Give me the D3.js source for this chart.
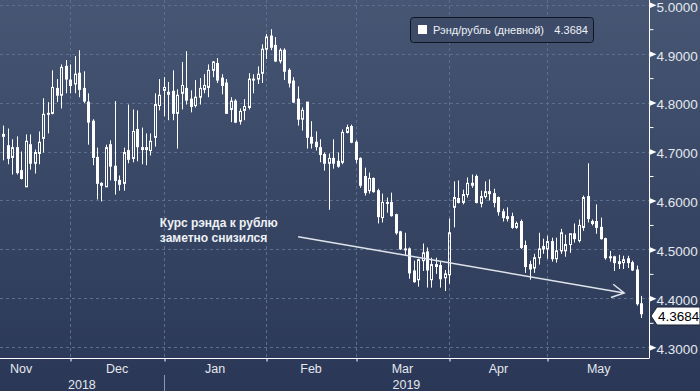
<!DOCTYPE html>
<html><head><meta charset="utf-8">
<script src="https://cdn.jsdelivr.net/npm/d3@7"></script>
<style>html,body{margin:0;padding:0;background:#36445f;} svg{display:block;}</style>
</head><body><svg id="c" width="700" height="391"></svg>
<script>
// ---------- data ----------
const startDate = "2018-11-12"; // first trading day shown (weekday series)
const open = [4.735,4.712,4.688,4.708,4.661,4.628,4.714,4.676,4.696,4.727,
4.778,4.778,4.829,4.815,4.874,4.846,4.838,4.860,4.829,4.801,
4.762,4.688,4.635,4.628,4.714,4.670,4.641,4.635,4.702,4.686,
4.745,4.708,4.708,4.702,4.729,4.794,4.825,4.817,4.823,4.778,
4.819,4.829,4.807,4.794,4.811,4.827,4.831,4.866,4.880,4.850,
4.840,4.786,4.803,4.762,4.784,4.790,4.848,4.848,4.860,4.909,
4.936,4.917,4.885,4.907,4.866,4.844,4.807,4.766,4.801,4.729,
4.719,4.708,4.694,4.676,4.686,4.680,4.678,4.739,4.751,4.719,
4.686,4.649,4.620,4.645,4.620,4.565,4.594,4.596,4.571,4.536,
4.501,4.501,4.456,4.438,4.477,4.495,4.438,4.469,4.467,4.442,
4.448,4.586,4.604,4.596,4.612,4.635,4.649,4.594,4.608,4.618,
4.614,4.606,4.577,4.567,4.567,4.545,4.557,4.508,4.469,4.462,
4.483,4.506,4.501,4.516,4.481,4.497,4.497,4.510,4.532,4.518,
4.545,4.608,4.557,4.557,4.545,4.522,4.485,4.485,4.471,4.473,
4.481,4.473,4.458,4.389];
const high = [4.753,4.747,4.725,4.731,4.700,4.735,4.735,4.704,4.741,4.809,
4.801,4.866,4.848,4.878,4.887,4.878,4.895,4.907,4.864,4.819,
4.766,4.708,4.637,4.714,4.723,4.803,4.651,4.708,4.796,4.786,
4.784,4.749,4.737,4.737,4.819,4.848,4.852,4.842,4.866,4.827,
4.883,4.905,4.825,4.846,4.850,4.858,4.878,4.885,4.891,4.858,
4.848,4.811,4.807,4.788,4.807,4.860,4.858,4.874,4.919,4.940,
4.950,4.934,4.911,4.911,4.870,4.852,4.833,4.790,4.801,4.762,
4.741,4.725,4.698,4.696,4.725,4.698,4.745,4.755,4.755,4.723,
4.688,4.667,4.657,4.647,4.624,4.614,4.606,4.616,4.573,4.538,
4.534,4.504,4.477,4.481,4.512,4.504,4.483,4.483,4.475,4.458,
4.563,4.639,4.641,4.622,4.647,4.653,4.653,4.620,4.639,4.643,
4.624,4.608,4.583,4.586,4.575,4.557,4.561,4.518,4.477,4.491,
4.534,4.522,4.528,4.524,4.524,4.542,4.530,4.532,4.553,4.561,
4.610,4.676,4.561,4.592,4.565,4.524,4.497,4.487,4.489,4.487,
4.487,4.477,4.467,4.405];
const low = [4.682,4.674,4.653,4.653,4.643,4.628,4.663,4.655,4.674,4.698,
4.737,4.776,4.801,4.788,4.819,4.819,4.819,4.811,4.799,4.714,
4.672,4.602,4.598,4.628,4.641,4.612,4.620,4.620,4.676,4.678,
4.680,4.674,4.672,4.692,4.710,4.784,4.772,4.764,4.764,4.706,
4.786,4.796,4.780,4.790,4.796,4.819,4.811,4.852,4.840,4.817,
4.778,4.760,4.758,4.755,4.764,4.786,4.819,4.838,4.840,4.889,
4.907,4.883,4.880,4.846,4.831,4.799,4.753,4.743,4.706,4.706,
4.702,4.678,4.661,4.581,4.665,4.667,4.674,4.737,4.717,4.676,
4.626,4.610,4.614,4.616,4.553,4.555,4.575,4.567,4.530,4.499,
4.489,4.440,4.432,4.424,4.456,4.422,4.422,4.450,4.422,4.415,
4.430,4.545,4.594,4.592,4.606,4.626,4.594,4.586,4.604,4.600,
4.586,4.569,4.557,4.557,4.542,4.542,4.501,4.452,4.438,4.452,
4.469,4.491,4.481,4.475,4.473,4.491,4.485,4.493,4.514,4.514,
4.538,4.555,4.549,4.532,4.520,4.479,4.475,4.456,4.460,4.460,
4.462,4.456,4.385,4.360];
const close = [4.731,4.686,4.708,4.657,4.645,4.721,4.676,4.698,4.719,4.776,
4.776,4.831,4.815,4.872,4.848,4.835,4.858,4.827,4.803,4.760,
4.688,4.635,4.631,4.708,4.670,4.641,4.633,4.698,4.684,4.741,
4.710,4.704,4.704,4.721,4.796,4.815,4.831,4.821,4.778,4.815,
4.835,4.805,4.792,4.811,4.829,4.835,4.866,4.883,4.846,4.835,
4.778,4.803,4.760,4.782,4.792,4.848,4.846,4.858,4.909,4.934,
4.913,4.885,4.907,4.864,4.840,4.801,4.766,4.784,4.729,4.717,
4.710,4.694,4.676,4.686,4.676,4.670,4.739,4.749,4.719,4.684,
4.631,4.616,4.645,4.618,4.567,4.596,4.596,4.569,4.534,4.501,
4.499,4.452,4.434,4.479,4.493,4.458,4.469,4.465,4.440,4.450,
4.534,4.606,4.596,4.612,4.635,4.631,4.596,4.608,4.618,4.614,
4.596,4.577,4.565,4.563,4.545,4.553,4.504,4.465,4.460,4.483,
4.501,4.501,4.516,4.481,4.497,4.534,4.510,4.532,4.522,4.549,
4.606,4.563,4.553,4.545,4.522,4.483,4.483,4.473,4.475,4.479,
4.473,4.458,4.389,4.3684];
const monthLabels = ["Nov","Dec","Jan","Feb","Mar","Apr","May"];
const yearLabels = ["2018","2019"];
const yTicks = [4.3,4.4,4.5,4.6,4.7,4.8,4.9,5.0];
const yMinorTicks = [4.35,4.45,4.55,4.65,4.75,4.85,4.95];
const seriesName = "Рэнд/рубль (дневной)";
const lastValue = 4.3684;
const noteLines = ["Курс рэнда к рублю","заметно снизился"];

// ---------- helpers ----------
const W = 700, H = 391, plotR = 649, plotB = 358;
const parse = d3.timeParse("%Y-%m-%d");
const start = parse(startDate);
const isWeekday = d => d.getDay() !== 0 && d.getDay() !== 6;
// weekday index of a date relative to start
function wIndex(d){
  if (d >= start) return d3.timeDay.range(start, d).filter(isWeekday).length;
  return -d3.timeDay.range(d, start).filter(isWeekday).length;
}
function firstWeekday(d){ while(!isWeekday(d)) d = d3.timeDay.offset(d,1); return d; }

const n = open.length;
const data = open.map((o,i)=>({i, o, h:high[i], l:low[i], c:close[i]}));

const x = d3.scaleLinear().domain([0, n-1]).range([3.3, 641.1]);
const y = d3.scaleLinear().domain([4.3, 5.0]).range([347.3, 4.7]);

const svg = d3.select("#c");
const defs = svg.append("defs");
const grad = defs.append("linearGradient").attr("id","bg").attr("x1",0).attr("y1",0).attr("x2",0).attr("y2",1);
grad.append("stop").attr("offset","0%").attr("stop-color","#465673");
grad.append("stop").attr("offset","100%").attr("stop-color","#2a3756");
svg.append("rect").attr("width",W).attr("height",H).attr("fill","url(#bg)");

// months
const monthStarts = d3.timeMonth.range(new Date(2018,10,1), new Date(2019,6,1)).map(firstWeekday);
const mIdx = monthStarts.map(wIndex);
const tickIdx = mIdx.filter(v => v >= 0 && x(v) < plotR);
const yearSplit = wIndex(firstWeekday(new Date(2019,0,1)));

// grid
const grid = svg.append("g").attr("stroke","#5b6f90").attr("stroke-dasharray","3,3").attr("stroke-width",1);
grid.selectAll("line.h").data(yTicks).join("line")
  .attr("x1",0).attr("x2",plotR).attr("y1",d=>Math.round(y(d))+0.5).attr("y2",d=>Math.round(y(d))+0.5);
grid.selectAll("line.v").data(tickIdx).join("line")
  .attr("y1",0).attr("y2",plotB).attr("x1",d=>Math.round(x(d))+0.5).attr("x2",d=>Math.round(x(d))+0.5);

// candles
const cg = svg.append("g");
const cand = cg.selectAll("g").data(data).join("g");
const px = d => Math.round(x(d.i));
cand.append("line").attr("stroke","#fff").attr("stroke-width",1)
  .attr("x1",d=>px(d)+0.5).attr("x2",d=>px(d)+0.5)
  .attr("y1",d=>y(d.h)).attr("y2",d=>y(Math.max(d.o,d.c)));
cand.append("line").attr("stroke","#fff").attr("stroke-width",1)
  .attr("x1",d=>px(d)+0.5).attr("x2",d=>px(d)+0.5)
  .attr("y1",d=>y(Math.min(d.o,d.c))).attr("y2",d=>y(d.l));
cand.filter(d=>d.c>d.o).append("rect")
  .attr("x",d=>px(d)-0.5).attr("width",2)
  .attr("y",d=>y(d.c)).attr("height",d=>Math.max(1,y(d.o)-y(d.c)))
  .attr("fill","none").attr("stroke","#fff").attr("stroke-width",1);
cand.filter(d=>d.c<=d.o).append("rect")
  .attr("x",d=>px(d)-1).attr("width",3)
  .attr("y",d=>y(d.o)-0.5).attr("height",d=>Math.max(1.5,y(d.c)-y(d.o)+1))
  .attr("fill","#fff");

// axes
const xAxis = svg.append("g").attr("transform",`translate(0,${plotB+0.5})`)
  .call(d3.axisBottom(x).tickValues(tickIdx).tickSize(3).tickFormat("").tickSizeOuter(0));
xAxis.select(".domain").attr("stroke","#fff").attr("d",`M0,0H${plotR}`);
xAxis.selectAll(".tick line").attr("stroke","#fff").attr("transform",d=>`translate(${Math.round(x(d))+0.5-x(d)},0)`);

const yAxis = svg.append("g").attr("transform",`translate(${plotR+0.5},0)`)
  .call(d3.axisRight(y).tickValues(yTicks).tickSize(0).tickPadding(7).tickFormat(d3.format(".4f")).tickSizeOuter(0));
yAxis.select(".domain").attr("stroke","#fff").attr("d",`M0,0V${plotB+0.5}`);
yAxis.selectAll(".tick text").attr("fill","#e4e8ee").attr("font-size","13.5px")
  .attr("font-family","'Liberation Sans', Arial, sans-serif").attr("dy","0.47em").attr("x",7);
yAxis.selectAll(".tick").append("path").attr("d","M0,-3L7,0L0,3Z").attr("fill","#fff");
const yMinor = svg.append("g").attr("transform",`translate(${plotR+0.5},0)`)
  .call(d3.axisRight(y).tickValues(yMinorTicks).tickSize(4).tickFormat(""));
yMinor.select(".domain").remove();
yMinor.selectAll(".tick line").attr("stroke","#fff");

// month labels
const lblFont = "'Liberation Sans', Arial, sans-serif";
svg.append("g").selectAll("text").data(monthLabels).join("text")
  .attr("x",(d,k)=>(x(mIdx[k])+x(mIdx[k+1]))/2).attr("y",373)
  .attr("text-anchor","middle").attr("fill","#e4e8ee").attr("font-size","12.5px").attr("font-family",lblFont)
  .text(d=>d);
const yearPos = [(0 + x(yearSplit))/2, (x(yearSplit)+plotR)/2];
svg.append("g").selectAll("text").data(yearLabels).join("text")
  .attr("x",(d,k)=>yearPos[k]).attr("y",389)
  .attr("text-anchor","middle").attr("fill","#e4e8ee").attr("font-size","12.5px").attr("font-family",lblFont)
  .text(d=>d);
svg.append("line").attr("x1",Math.round(x(yearSplit))+0.5).attr("x2",Math.round(x(yearSplit))+0.5)
  .attr("y1",375).attr("y2",H).attr("stroke","#8b97ab");

// legend
const lg = svg.append("g");
lg.append("rect").attr("x",410.5).attr("y",17.5).attr("width",183).attr("height",25).attr("rx",3)
  .attr("fill","#3d4b69").attr("stroke","#0e1422");
lg.append("rect").attr("x",418).attr("y",25).attr("width",9).attr("height",9).attr("fill","#fff");
lg.append("text").attr("x",433).attr("y",34).attr("fill","#eef1f5").attr("font-size","11px")
  .attr("font-family",lblFont).text(seriesName);
lg.append("text").attr("x",588).attr("y",34).attr("text-anchor","end").attr("fill","#eef1f5").attr("font-size","11px")
  .attr("font-family",lblFont).text(d3.format(".4f")(lastValue));

// last value tag
const ty = Math.round(y(lastValue)) + 2;
svg.append("path").attr("d",`M651,${ty}L657,${ty-9}H700V${ty+9}H657Z`).attr("fill","#fff").attr("stroke","#1a2235");
svg.append("text").attr("x",658).attr("y",ty+5).attr("fill","#000").attr("font-size","13.5px")
  .attr("font-family",lblFont).text(d3.format(".4f")(lastValue));

// annotation
const note = svg.append("g");
note.selectAll("text").data(noteLines).join("text")
  .attr("x",x(35.1)).attr("y",(d,k)=>227+k*15).attr("fill","#eef1f5").attr("font-weight","bold")
  .attr("font-size","12px").attr("font-family",lblFont).text(d=>d);
const a0 = [x(66.1), y(4.526)], a1 = [x(139.2), y(4.411)];
note.append("line").attr("x1",a0[0]).attr("y1",a0[1]).attr("x2",a1[0]).attr("y2",a1[1])
  .attr("stroke","#dfe4ec").attr("stroke-width",1.5);
const ang = Math.atan2(a1[1]-a0[1], a1[0]-a0[0]);
const hl = 14, hw = 0.5;
note.append("path").attr("d",
  `M${a1[0]-hl*Math.cos(ang-hw)},${a1[1]-hl*Math.sin(ang-hw)}L${a1[0]},${a1[1]}L${a1[0]-hl*Math.cos(ang+hw)},${a1[1]-hl*Math.sin(ang+hw)}`)
  .attr("fill","none").attr("stroke","#dfe4ec").attr("stroke-width",1.5);
</script></body></html>
